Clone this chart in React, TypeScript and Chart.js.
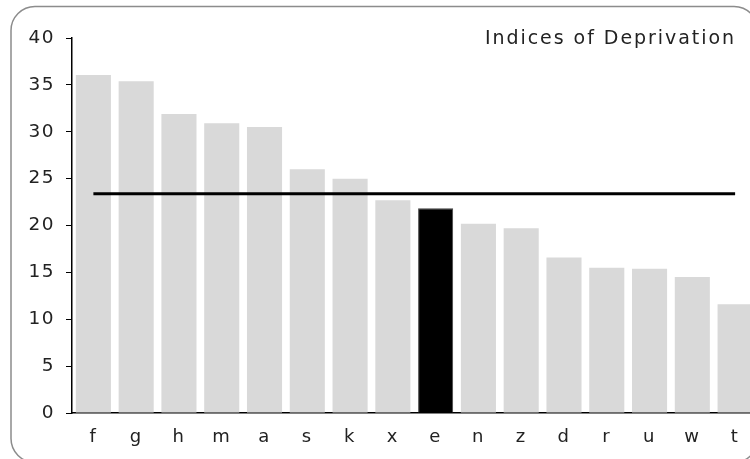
import React, { useEffect, useRef } from 'react';
import { Chart, registerables } from 'chart.js';

Chart.register(...registerables);

const categories = ['f', 'g', 'h', 'm', 'a', 's', 'k', 'x', 'e', 'n', 'z', 'd', 'r', 'u', 'w', 't'];
const values = [36.05, 35.4, 31.9, 30.9, 30.5, 26.0, 25.0, 22.7, 21.85, 20.2, 19.7, 16.6, 15.5, 15.4, 14.5, 11.6];
const highlightCategory = 'e';
const benchmarkValue = 23.4;
const benchmarkLine = categories.map(() => benchmarkValue);
const yMin = 0;
const yMax = 40;
const yStep = 5;
const titleText = 'Indices of Deprivation';

const FONT = '"DejaVu Sans", Verdana, sans-serif';
const TEXT = '#222222';
const W = 770;
const H = 470;

const decorPlugin = {
  id: 'decor',
  beforeDraw(chart: any) {
    chart.ctx.letterSpacing = '1.5px';
  },
  afterDraw(chart: any) {
    const ctx = chart.ctx;
    ctx.save();
    ctx.letterSpacing = '1.95px';
    ctx.font = `19px ${FONT}`;
    ctx.fillStyle = TEXT;
    ctx.textAlign = 'right';
    ctx.textBaseline = 'alphabetic';
    ctx.fillText(titleText, 736, 44);
    ctx.restore();

    ctx.save();
    ctx.strokeStyle = '#8c8c8c';
    ctx.lineWidth = 1.5;
    ctx.beginPath();
    ctx.roundRect(11, 6.5, 747, 456, 24);
    ctx.stroke();
    ctx.restore();
  },
};

export default function App() {
  const ref = useRef<HTMLCanvasElement | null>(null);

  useEffect(() => {
    if (!ref.current) return;
    const chart = new Chart(ref.current, {
      type: 'bar',
      data: {
        labels: categories,
        datasets: [
          {
            type: 'line',
            data: benchmarkLine,
            borderColor: '#000000',
            borderWidth: 3,
            pointRadius: 0,
            order: 0,
          } as any,
          {
            type: 'bar',
            data: values,
            backgroundColor: categories.map((c) => (c === highlightCategory ? '#000000' : '#d9d9d9')),
            borderColor: categories.map((c) => (c === highlightCategory ? '#444444' : '#d9d9d9')),
            borderWidth: categories.map((c) => (c === highlightCategory ? 1 : 0)),
            barPercentage: 0.82,
            categoryPercentage: 1,
            order: 1,
          },
        ],
      },
      options: {
        responsive: false,
        animation: false,
        devicePixelRatio: 1,
        layout: { padding: { left: 0, top: 38, right: 13.5, bottom: 0 } },
        plugins: {
          legend: { display: false },
          tooltip: { enabled: false },
          title: { display: false },
        },
        scales: {
          x: {
            grid: { display: false, drawTicks: false },
            border: { display: true, color: '#000000', width: 1.5 },
            ticks: {
              color: TEXT,
              font: { family: FONT, size: 18 },
              padding: 14,
              maxRotation: 0,
              autoSkip: false,
            },
            afterFit(scale: any) {
              scale.height = 57;
            },
          },
          y: {
            min: yMin,
            max: yMax,
            grid: {
              display: true,
              drawOnChartArea: false,
              drawTicks: true,
              tickLength: 6,
              color: '#000000',
              lineWidth: 1,
            },
            border: { display: true, color: '#000000', width: 1.5 },
            ticks: {
              stepSize: yStep,
              color: TEXT,
              font: { family: FONT, size: 18.5 },
              padding: 11,
            },
            afterFit(scale: any) {
              scale.width = 72;
            },
          },
        },
      },
      plugins: [decorPlugin],
    });
    return () => chart.destroy();
  }, []);

  return (
    <div
      style={{
        position: 'fixed',
        left: 0,
        top: 0,
        width: 750,
        height: 459,
        overflow: 'hidden',
        background: '#ffffff',
      }}
    >
      <canvas ref={ref} width={W} height={H} style={{ display: 'block', width: W, height: H }} />
    </div>
  );
}
